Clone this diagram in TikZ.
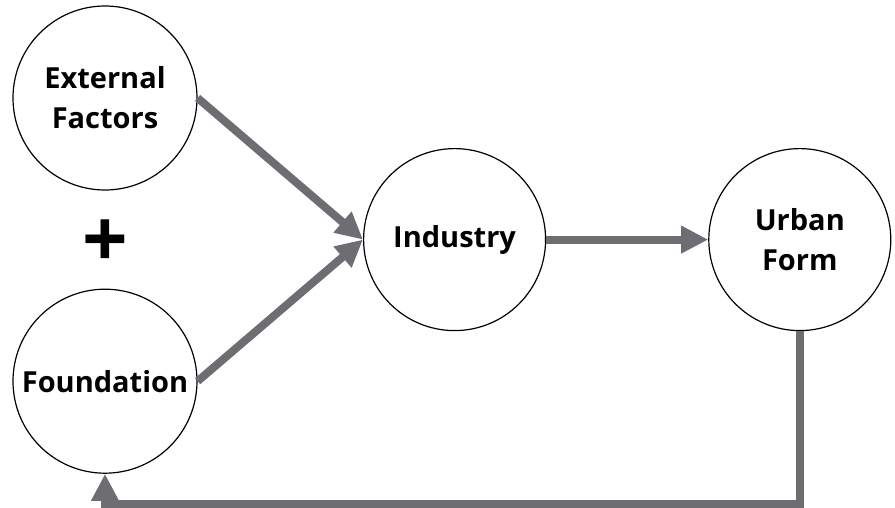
\documentclass[tikz,border=0pt]{standalone}
\usepackage{fontspec}
\setmainfont{Open Sans}
\usepackage{xcolor}
\usetikzlibrary{arrows.meta, positioning, calc}
\definecolor{arrowgray}{RGB}{110,109,113}

\begin{document}
\begin{tikzpicture}[
	% --- STYLES ---
	node distance=49pt and 81pt,
	% circle for every factor of the loop
	factor/.style={
		circle,
		draw,
		line width=0.6pt,
		minimum size=91pt,
		inner sep=0pt,
		align=center,
		font=\fontsize{14.5}{20}\selectfont\bfseries
	},
	% thick grey arrows
	line/.style={
		draw=arrowgray,
		line width=4pt,
		-{Triangle[length=13.5pt, width=13pt]}
	},
	% the big plus sign
	io/.style={
		font=\fontsize{40}{40}\selectfont\bfseries
	}
	]
	
	\useasboundingbox (-52.5pt,-205pt) rectangle (395pt,49pt);
	
	% --- Nodes ---
	\node[factor, minimum size=92pt] (ext) at (0,0) {External\\Factors};
	\node[factor, minimum size=92pt, below=of ext] (fnd) {Foundation};
	\coordinate (mid) at ($(ext)!0.5!(fnd)$);
	\node[io, yshift=-2pt] (plus) at (mid) {+};
	\node[factor, right=129pt of mid] (ind) {Industry};
	\node[factor, right=of ind] (urb) {Urban\\Form};
	\coordinate[below=15pt of fnd.south] (back);
	
	% --- Connections ---
	\draw[line] (ext.east) -- (ind.west);
	\draw[line] (fnd.east) -- (ind.west);
	\draw[line] (ind) -- (urb);
	\draw[line] (urb.south) |- (back) -- (fnd.south);
	
\end{tikzpicture}
\end{document}
